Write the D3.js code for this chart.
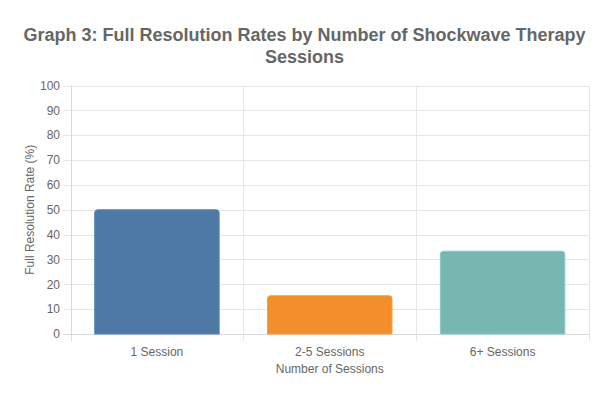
<!DOCTYPE html>
<html><head><meta charset="utf-8">
<script src="https://cdn.jsdelivr.net/npm/d3@7/dist/d3.min.js"></script>
<style>body{margin:0;background:#fff}svg{display:block}text{font-family:"Liberation Sans",Arial,sans-serif}</style>
</head><body><svg id="c" width="607" height="399"></svg>
<script>
const categories = ["1 Session", "2-5 Sessions", "6+ Sessions"];
const values = [50, 15.4, 33.3];
const colors = ["#4e79a7", "#f28e2b", "#76b7b2"];
const yTicks = [0,10,20,30,40,50,60,70,80,90,100];
const titleLines = ["Graph 3: Full Resolution Rates by Number of Shockwave Therapy", "Sessions"];

const svg = d3.select("#c");
const L = 70.5, R = 589, T = 85.5, B = 334;
const x = d3.scaleBand().domain(categories).range([L, R]).paddingInner(0).paddingOuter(0);
const y = d3.scaleLinear().domain([0, 100]).range([B, T]);

// grid
svg.append("g").selectAll("line").data(yTicks).join("line")
  .attr("x1", L - 7).attr("x2", R).attr("y1", d => Math.round(y(d)) + 0.5).attr("y2", d => Math.round(y(d)) + 0.5)
  .attr("stroke", d => d === 0 ? "#d9d9d9" : "#e6e6e6");
const vlines = categories.map(c => x(c)).concat([R]);
svg.append("g").selectAll("line").data(vlines).join("line")
  .attr("x1", d => Math.round(d) + 0.5).attr("x2", d => Math.round(d) + 0.5)
  .attr("y1", T).attr("y2", B + 7)
  .attr("stroke", (d, i) => i === 0 ? "#d9d9d9" : "#e6e6e6");

// bars
const bw = x.bandwidth() * 0.72;
const r = 3;
function barPath(x0, y0, w, h) {
  return `M${x0},${y0 + h}V${y0 + r}Q${x0},${y0} ${x0 + r},${y0}H${x0 + w - r}Q${x0 + w},${y0} ${x0 + w},${y0 + r}V${y0 + h}Z`;
}
svg.append("g").selectAll("path").data(categories).join("path")
  .attr("d", (c, i) => barPath(x(c) + (x.bandwidth() - bw) / 2, y(values[i]), bw, B - y(values[i])))
  .attr("fill", (c, i) => colors[i])
  .attr("stroke", (c, i) => d3.color(colors[i]).brighter(0.3))
  .attr("stroke-width", 1);

// y tick labels
svg.append("g").selectAll("text").data(yTicks).join("text")
  .attr("x", 60).attr("y", d => y(d)).attr("dy", "0.35em")
  .attr("text-anchor", "end").attr("font-size", 12).attr("fill", "#666").text(d => d);

// x tick labels
svg.append("g").selectAll("text").data(categories).join("text")
  .attr("x", c => x(c) + x.bandwidth() / 2).attr("y", 356)
  .attr("text-anchor", "middle").attr("font-size", 12).attr("fill", "#666").text(c => c);

// axis titles
svg.append("text").attr("x", (L + R) / 2).attr("y", 373).attr("text-anchor", "middle")
  .attr("font-size", 12).attr("fill", "#666").text("Number of Sessions");
svg.append("text").attr("transform", `translate(34,${(T + B) / 2}) rotate(-90)`).attr("text-anchor", "middle")
  .attr("font-size", 12).attr("fill", "#666").text("Full Resolution Rate (%)");

// title
svg.append("g").selectAll("text").data(titleLines).join("text")
  .attr("x", 304.5).attr("y", (d, i) => 41 + i * 22).attr("text-anchor", "middle")
  .attr("font-size", 18).attr("font-weight", "bold").attr("fill", "#666").text(d => d);
</script></body></html>
